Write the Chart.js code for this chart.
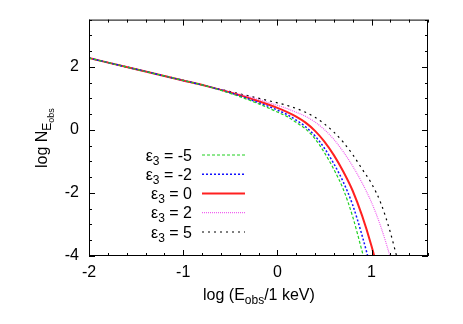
<!DOCTYPE html>
<html>
<head>
<meta charset="utf-8">
<script src="https://cdn.jsdelivr.net/npm/chart.js@4.4.1/dist/chart.umd.min.js"></script>
<style>
  html, body { margin: 0; padding: 0; background: #fff; }
</style>
</head>
<body>
<canvas id="spec" width="463" height="324"></canvas>
<script>
// log(E_obs / 1 keV) sample points
const logE = [-2, -1.5, -1, -0.75, -0.5, -0.25, 0, 0.1, 0.2, 0.3, 0.4, 0.5, 0.6, 0.7, 0.8, 0.9, 1.0, 1.1, 1.2, 1.3];

// log N_Eobs for each epsilon_3
const nEpsM5 = [2.28, 1.925, 1.57, 1.39, 1.16, 0.89, 0.57, 0.43, 0.24, 0.03, -0.28, -0.72, -1.25, -1.88, -2.75, -3.85, -5.00];
const nEpsM2 = [2.28, 1.925, 1.57, 1.39, 1.18, 0.92, 0.63, 0.49, 0.31, 0.10, -0.19, -0.58, -1.07, -1.65, -2.38, -3.35, -4.45];
const nEps0  = [2.28, 1.925, 1.57, 1.39, 1.19, 0.96, 0.70, 0.57, 0.42, 0.23, -0.03, -0.37, -0.80, -1.32, -1.93, -2.72, -3.68, -4.80];
const nEps2  = [2.28, 1.925, 1.57, 1.39, 1.20, 1.01, 0.78, 0.68, 0.56, 0.43, 0.25, 0.01, -0.30, -0.69, -1.15, -1.68, -2.30, -3.08, -4.05, -5.20];
const nEps5  = [2.28, 1.925, 1.57, 1.39, 1.215, 1.04, 0.86, 0.78, 0.68, 0.56, 0.40, 0.19, -0.07, -0.39, -0.78, -1.24, -1.70, -2.33, -3.25, -4.40];

const epsLabels = ["-5", "-2", "0", "2", "5"];
const xTicks = [-2, -1, 0, 1];
const yTicks = [-4, -2, 0, 2];

const FONT = "'Liberation Sans', Arial, Helvetica, sans-serif";

const styles = [
  { color: "#20d020", width: 1.2, dash: [3, 2] },
  { color: "#1010ff", width: 1.5, dash: [2, 2] },
  { color: "#ff2020", width: 2,   dash: [] },
  { color: "#f060f0", width: 1.2, dash: [1, 1] },
  { color: "#000000", width: 1.2, dash: [2, 4] },
];

const series = [nEpsM5, nEpsM2, nEps0, nEps2, nEps5];

function toPoints(ys) {
  return ys.map((y, i) => ({ x: logE[i], y }));
}

// frame, inside ticks, legend and axis titles (gnuplot look)
const gnuplotFrame = {
  id: "gnuplotFrame",
  afterDraw(chart) {
    const { ctx, chartArea: a, scales } = chart;
    const xs = scales.x, ys = scales.y;
    ctx.save();
    ctx.strokeStyle = "#000";
    ctx.lineWidth = 1;
    ctx.setLineDash([]);
    ctx.strokeRect(a.left + 0.5, a.top + 0.5, a.right - a.left - 1, a.bottom - a.top - 1);

    ctx.beginPath();
    for (let i = 0; i <= 18; i++) {
      const v = -2 + i * 0.2;
      const major = Math.abs(v - Math.round(v)) < 1e-6;
      const len = major ? 6 : 3;
      const px = Math.round(xs.getPixelForValue(v)) + 0.5;
      ctx.moveTo(px, a.bottom); ctx.lineTo(px, a.bottom - len);
      ctx.moveTo(px, a.top); ctx.lineTo(px, a.top + len);
    }
    for (let i = 0; i <= 15; i++) {
      const v = -4 + i * 0.5;
      const major = yTicks.includes(v);
      const len = major ? 6 : 3;
      const py = Math.round(ys.getPixelForValue(v)) + 0.5;
      ctx.moveTo(a.left, py); ctx.lineTo(a.left + len, py);
      ctx.moveTo(a.right, py); ctx.lineTo(a.right - len, py);
    }
    ctx.stroke();

    // legend
    ctx.fillStyle = "#000";
    ctx.textBaseline = "alphabetic";
    const rowY = [155, 174.3, 193.5, 212.7, 232];
    epsLabels.forEach((lab, i) => {
      const base = rowY[i] + 5.5;
      const big = "16px " + FONT, small = "12px " + FONT;
      ctx.font = big;
      const wE = ctx.measureText("\u03b5").width;
      const wR = ctx.measureText(" = " + lab).width;
      ctx.font = small;
      const wS = ctx.measureText("3").width;
      let x0 = 192 - (wE + wS + wR);
      ctx.font = big;
      ctx.fillText("\u03b5", x0, base);
      ctx.font = small;
      ctx.fillText("3", x0 + wE, base + 4);
      ctx.font = big;
      ctx.fillText(" = " + lab, x0 + wE + wS, base);

      const st = styles[i];
      ctx.strokeStyle = st.color;
      ctx.lineWidth = st.width;
      ctx.setLineDash(st.dash);
      ctx.beginPath();
      ctx.moveTo(202, rowY[i]);
      ctx.lineTo(245, rowY[i]);
      ctx.stroke();
    });
    ctx.setLineDash([]);

    // x title
    let tx = 203;
    const ty = 300;
    ctx.font = "16px " + FONT;
    ctx.fillText("log (E", tx, ty);
    tx += ctx.measureText("log (E").width;
    ctx.font = "12px " + FONT;
    ctx.fillText("obs", tx, ty + 4);
    tx += ctx.measureText("obs").width;
    ctx.font = "16px " + FONT;
    ctx.fillText("/1 keV)", tx, ty);

    // y title
    ctx.translate(47, 168);
    ctx.rotate(-Math.PI / 2);
    let rx = 0;
    ctx.font = "16px " + FONT;
    ctx.fillText("log N", rx, 0);
    rx += ctx.measureText("log N").width;
    ctx.font = "12px " + FONT;
    ctx.fillText("E", rx, 4);
    rx += ctx.measureText("E").width;
    ctx.font = "9px " + FONT;
    ctx.fillText("obs", rx, 7);
    ctx.restore();
  },
};

new Chart(document.getElementById("spec").getContext("2d"), {
  type: "line",
  data: {
    datasets: series.map((ys, i) => ({
      label: "\u03b5\u2083 = " + epsLabels[i],
      data: toPoints(ys),
      borderColor: styles[i].color,
      borderWidth: styles[i].width,
      borderDash: styles[i].dash,
      pointRadius: 0,
      fill: false,
      cubicInterpolationMode: "monotone",
    })),
  },
  options: {
    responsive: false,
    animation: false,
    devicePixelRatio: 1,
    layout: { padding: { top: 19, right: 35, left: 0, bottom: 0 } },
    plugins: { legend: { display: false }, tooltip: { enabled: false } },
    scales: {
      x: {
        type: "linear",
        min: -2,
        max: 1.6,
        afterBuildTicks: (s) => { s.ticks = xTicks.map((v) => ({ value: v })); },
        afterFit: (s) => { s.height = 68; },
        ticks: { color: "#000", font: { size: 16, family: FONT }, padding: 7, maxRotation: 0, callback: (v) => String(v) },
        grid: { display: false, drawTicks: false },
        border: { display: false },
      },
      y: {
        min: -4,
        max: 3.5,
        afterBuildTicks: (s) => { s.ticks = yTicks.map((v) => ({ value: v })); },
        afterFit: (s) => { s.width = 89; },
        ticks: { color: "#000", font: { size: 16, family: FONT }, padding: 10, callback: (v) => String(v) },
        grid: { display: false, drawTicks: false },
        border: { display: false },
      },
    },
  },
  plugins: [gnuplotFrame],
});
</script>
</body>
</html>
